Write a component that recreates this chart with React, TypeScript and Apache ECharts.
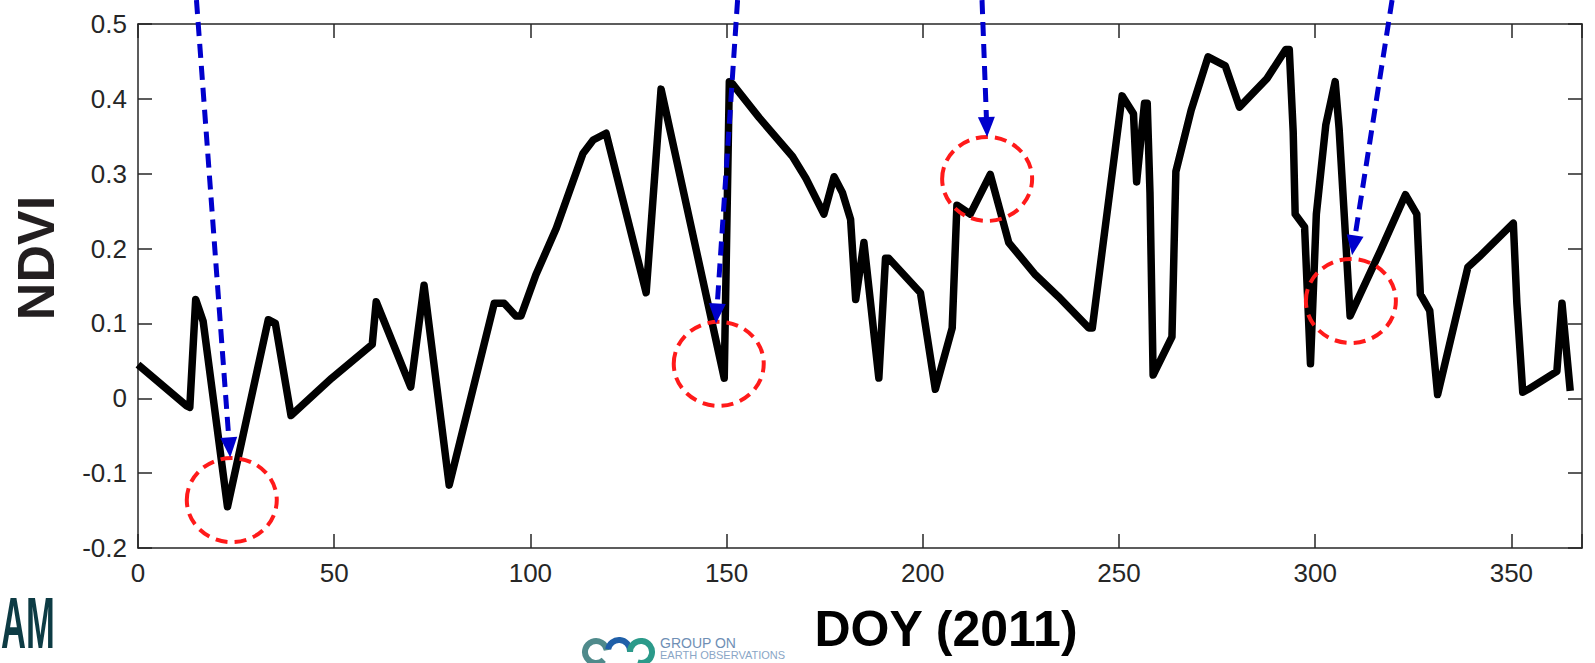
import React, { useEffect, useRef } from "react";
import * as echarts from "echarts";

// NDVI time series (day of year 2011)
const days = [
  0, 12.4, 13.2, 14.7, 16.6, 22.8, 33.2, 35, 39, 49.4, 59.7, 60.7, 69.5, 72.9, 79.3,
  90.8, 93.3, 96.3, 97.6, 101.4, 106.6, 110.8, 113.4, 116, 119.3, 129.5, 133.3, 149.4,
  150.7, 151.5, 158.3, 166.8, 170.2, 174.8, 177.4, 179.5, 181.6, 182.9, 185, 188.8,
  190.5, 191.3, 199.4, 203.2, 207.5, 208.7, 212.1, 217.2, 220.2, 221.9, 228.7, 234.5,
  242.3, 243.2, 250.8, 253.7, 254.5, 256.5, 257.2, 257.9, 258.7, 263.5, 264.5, 268.4,
  272.7, 277.1, 280.7, 287.7, 292.5, 293.4, 294.4, 294.9, 297.3, 298.8, 300.3, 302.7,
  305.1, 306.1, 307.5, 308.9, 316.7, 323, 325.9, 326.8, 329.2, 331.2, 338.9, 341.8,
  350.5, 351.4, 352.9, 354.3, 361.6, 362.9, 365,
];
const ndvi = [
  0.045, -0.01, -0.012, 0.132, 0.103, -0.145, 0.105, 0.1, -0.023, 0.027, 0.072, 0.129,
  0.015, 0.151, -0.116, 0.127, 0.127, 0.11, 0.11, 0.165, 0.227, 0.289, 0.327, 0.345,
  0.354, 0.141, 0.413, 0.027, 0.423, 0.42, 0.375, 0.323, 0.294, 0.246, 0.296, 0.275,
  0.239, 0.132, 0.208, 0.027, 0.187, 0.187, 0.141, 0.012, 0.094, 0.258, 0.246, 0.299,
  0.241, 0.208, 0.165, 0.136, 0.094, 0.094, 0.404, 0.38, 0.289, 0.394, 0.394, 0.275,
  0.031, 0.082, 0.303, 0.385, 0.456, 0.444, 0.389, 0.427, 0.466, 0.466, 0.356, 0.246,
  0.229, 0.046, 0.246, 0.365, 0.423, 0.36, 0.237, 0.11, 0.198, 0.272, 0.246, 0.139,
  0.117, 0.005, 0.175, 0.189, 0.234, 0.127, 0.008, 0.012, 0.036, 0.127, 0.01,
];

const xTickValues = [0, 50, 100, 150, 200, 250, 300, 350];
const yTickLabels = ["-0.2", "-0.1", "0", "0.1", "0.2", "0.3", "0.4", "0.5"];

// annotations (data coordinates)
const arrowFrom = [
  [14.9, 0.532],
  [152.8, 0.532],
  [215.1, 0.532],
  [319.6, 0.532],
];
const arrowTo = [
  [23.5, -0.079],
  [147.3, 0.1],
  [216.4, 0.349],
  [309.4, 0.191],
];
const circleCenters = [
  [23.9, -0.136],
  [148, 0.046],
  [216.4, 0.293],
  [309.1, 0.13],
];

const AXIS_COLOR = "#262626";
const LABEL_FONT = "'Liberation Sans', Arial, sans-serif";
const NARROW_FONT = "'Liberation Sans Narrow', 'Liberation Sans', Arial, sans-serif";

export default function App() {
  const ref = useRef<HTMLDivElement>(null);

  useEffect(() => {
    const chart = echarts.init(ref.current!, null, { renderer: "svg" });
    const axisLine = { show: true, onZero: false, lineStyle: { color: AXIS_COLOR, width: 1.5 } };
    const axisTick = { show: true, inside: true, length: 14, lineStyle: { color: AXIS_COLOR, width: 1.5 } };
    const xCommon = { type: "value", min: 0, max: 368, interval: 50, splitLine: { show: false } };
    const yCommon = { type: "value", min: -0.2, max: 0.5, interval: 0.1, splitLine: { show: false } };

    chart.setOption({
      animation: false,
      backgroundColor: "#ffffff",
      grid: { left: 138, right: 13, top: 24, bottom: 115, containLabel: false },
      xAxis: [
        {
          ...xCommon,
          position: "bottom",
          axisLine,
          axisTick,
          axisLabel: {
            margin: 12,
            fontSize: 26,
            fontFamily: NARROW_FONT,
            color: AXIS_COLOR,
            formatter: (v: number) =>
              xTickValues.includes(Math.round(v)) && Math.abs(v - Math.round(v)) < 1e-6 ? String(Math.round(v)) : "",
          },
        },
        { ...xCommon, position: "top", axisLine, axisTick, axisLabel: { show: false } },
      ],
      yAxis: [
        {
          ...yCommon,
          position: "left",
          axisLine,
          axisTick,
          axisLabel: {
            margin: 11,
            fontSize: 26,
            fontFamily: LABEL_FONT,
            color: AXIS_COLOR,
            formatter: (v: number) => {
              const idx = Math.round((v + 0.2) * 10);
              return yTickLabels[idx] ?? "";
            },
          },
        },
        { ...yCommon, position: "right", axisLine, axisTick, axisLabel: { show: false } },
      ],
      series: [
        {
          type: "line",
          xAxisIndex: 0,
          yAxisIndex: 0,
          data: days.map((d, i) => [d, ndvi[i]]),
          showSymbol: false,
          symbol: "none",
          lineStyle: { color: "#000000", width: 7.5, join: "round" },
          z: 2,
        },
      ],
    });

    const toPx = (p: number[]) => chart.convertToPixel({ seriesIndex: 0 }, p) as number[];
    const graphics: any[] = [];

    circleCenters.forEach((c) => {
      const [cx, cy] = toPx(c);
      graphics.push({
        type: "ellipse",
        z: 100,
        shape: { cx, cy, rx: 45, ry: 42 },
        style: { fill: "none", stroke: "#ff1a1a", lineWidth: 4, lineDash: [12, 7] },
      });
    });

    arrowFrom.forEach((f, i) => {
      const [sx, sy] = toPx(f);
      const [tx, ty] = toPx(arrowTo[i]);
      const dx = tx - sx;
      const dy = ty - sy;
      const len = Math.sqrt(dx * dx + dy * dy);
      const ux = dx / len;
      const uy = dy / len;
      const L = 20;
      const W = 17;
      const bx = tx - ux * L;
      const by = ty - uy * L;
      const nx = -uy;
      const ny = ux;
      graphics.push({
        type: "line",
        z: 101,
        shape: { x1: sx, y1: sy, x2: bx + ux * 2, y2: by + uy * 2 },
        style: { stroke: "#0000cc", lineWidth: 5, lineDash: [14, 8] },
      });
      graphics.push({
        type: "polygon",
        z: 101,
        shape: {
          points: [
            [tx, ty],
            [bx + (nx * W) / 2, by + (ny * W) / 2],
            [bx - (nx * W) / 2, by - (ny * W) / 2],
          ],
        },
        style: { fill: "#0000cc" },
      });
    });

    // axis titles
    graphics.push({
      type: "text",
      z: 50,
      x: 36,
      y: 258,
      rotation: Math.PI / 2,
      style: {
        text: "NDVI",
        fontSize: 52,
        fontWeight: "bold",
        fontFamily: LABEL_FONT,
        fill: "#231f20",
        align: "center",
        verticalAlign: "middle",
      },
    });
    graphics.push({
      type: "text",
      z: 50,
      x: 946,
      y: 629,
      style: {
        text: "DOY (2011)",
        fontSize: 50,
        fontWeight: "bold",
        fontFamily: LABEL_FONT,
        fill: "#000000",
        align: "center",
        verticalAlign: "middle",
      },
    });

    // slide logos (partially visible)
    graphics.push({
      type: "text",
      z: 10,
      x: 1,
      y: 623,
      scaleX: 0.48,
      style: {
        text: "AM",
        fontSize: 72,
        fontWeight: "bold",
        fontFamily: LABEL_FONT,
        fill: "#0d3b44",
        align: "left",
        verticalAlign: "middle",
      },
    });
    const geoArcs = [
      { cx: 596, cy: 652, color: "#4f8a8b", start: Math.PI * 0.25, end: Math.PI * 1.95 },
      { cx: 619, cy: 651, color: "#1f5fa8", start: Math.PI * 1.05, end: Math.PI * 2.0 },
      { cx: 641, cy: 652, color: "#2b9a8a", start: Math.PI * 1.0, end: Math.PI * 2.6 },
    ];
    geoArcs.forEach((a) => {
      graphics.push({
        type: "arc",
        z: 10,
        shape: { cx: a.cx, cy: a.cy, r: 11, startAngle: a.start, endAngle: a.end },
        style: { stroke: a.color, lineWidth: 6, fill: "none" },
      });
    });
    graphics.push({
      type: "text",
      z: 10,
      x: 660,
      y: 643,
      style: {
        text: "GROUP ON",
        fontSize: 14,
        fontFamily: NARROW_FONT,
        fill: "#6f8fb5",
        align: "left",
        verticalAlign: "middle",
      },
    });
    graphics.push({
      type: "text",
      z: 10,
      x: 660,
      y: 655,
      style: {
        text: "EARTH OBSERVATIONS",
        fontSize: 11,
        fontFamily: NARROW_FONT,
        fill: "#8aa6c6",
        align: "left",
        verticalAlign: "middle",
      },
    });

    chart.setOption({ graphic: graphics });

    return () => chart.dispose();
  }, []);

  return (
    <div
      ref={ref}
      style={{ position: "fixed", left: 0, top: 0, width: 1595, height: 663, background: "#ffffff" }}
    />
  );
}
